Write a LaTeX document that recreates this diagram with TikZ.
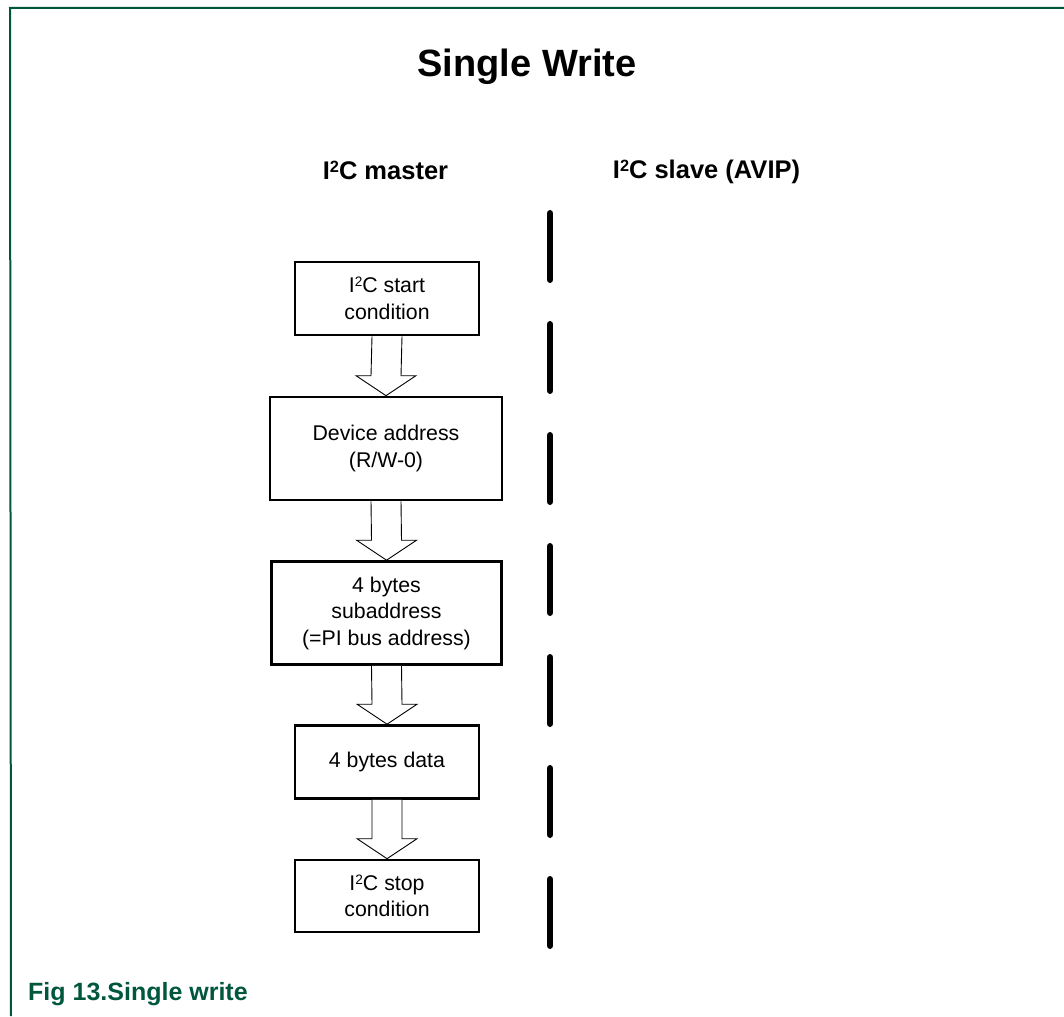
\documentclass[tikz,border=0pt]{standalone}
\usepackage{fontspec}
\setmainfont{Liberation Sans}
\usetikzlibrary{calc}
\definecolor{nxpgreen}{RGB}{0,87,62}
% superscript two as set in the headings and boxes
\newcommand\suptwo{\raisebox{0.28em}{\scalebox{0.64}{2}}}
\tikzset{
  stepbox/.style={draw, line width=2.6pt, fill=white, align=center, inner sep=0pt,
    font=\fontsize{21.3}{26.5}\selectfont},
  arrowline/.style={draw, line width=0.9pt, fill=white, line join=miter},
  lifeline/.style={line width=6.5pt, line cap=round, dash pattern=on 66.5pt off 44.5pt},
  frameline/.style={nxpgreen, line width=2pt},
  headlabel/.style={anchor=base, font=\fontsize{25.5}{30}\selectfont\bfseries}
}
% wide hollow arrow from the bottom of one box to the top of the next
\newcommand\blockarrow[2]{%
  \draw[arrowline] ($(#1.south)+(-15,0)$) -- ($(#2.north)+(-15,-20)$)
    -- ($(#2.north)+(-30,-20)$) -- (#2.north) -- ($(#2.north)+(30,-20)$)
    -- ($(#2.north)+(15,-20)$) -- ($(#1.south)+(15,0)$);}
\begin{document}
\begin{tikzpicture}[x=1pt, y=-1pt]
\useasboundingbox (0,0) rectangle (1064,1016);
% frame
\coordinate (frameL) at (10,8);
\coordinate (frameR) at (1064,8);
\coordinate (frameB) at (11,1016);
\draw[frameline] (frameR) -- (frameL) -- (frameB);

% title and column heads
\node[anchor=base, font=\fontsize{38}{44}\selectfont\bfseries] (title) at (527,77) {Single Write};
\node[headlabel] (master) at (385.5,180) {I\suptwo C master};
\node[headlabel] (slave) at (706.5,179) {I\suptwo C slave (AVIP)};

% boundary between master and slave
\coordinate (lifetop) at (550,213.25);
\coordinate (lifebot) at (550,945.75);
\draw[lifeline] (lifetop) -- (lifebot);

% master steps
\node[stepbox, minimum width=184pt, minimum height=73pt] (start) at (387,298.5)
  {I\suptwo C start\\condition};
\node[stepbox, minimum width=232pt, minimum height=103pt] (devaddr) at (386,448.5)
  {Device address\\(R/W-0)};
\node[stepbox, minimum width=230pt, minimum height=103pt] (subaddr) at (386.5,613)
  {4 bytes\\subaddress\\(=PI bus address)};
\node[stepbox, minimum width=184pt, minimum height=73pt] (data) at (387,762)
  {4 bytes data};
\node[stepbox, minimum width=184pt, minimum height=72pt] (stop) at (387,896)
  {I\suptwo C stop\\condition};

\blockarrow{start}{devaddr}
\blockarrow{devaddr}{subaddr}
\blockarrow{subaddr}{data}
\blockarrow{data}{stop}

% caption
\node[anchor=base west, text=nxpgreen, font=\fontsize{25}{30}\selectfont\bfseries, inner sep=0pt]
  (caption) at (28,1000) {Fig 13.Single write};
\end{tikzpicture}
\end{document}
